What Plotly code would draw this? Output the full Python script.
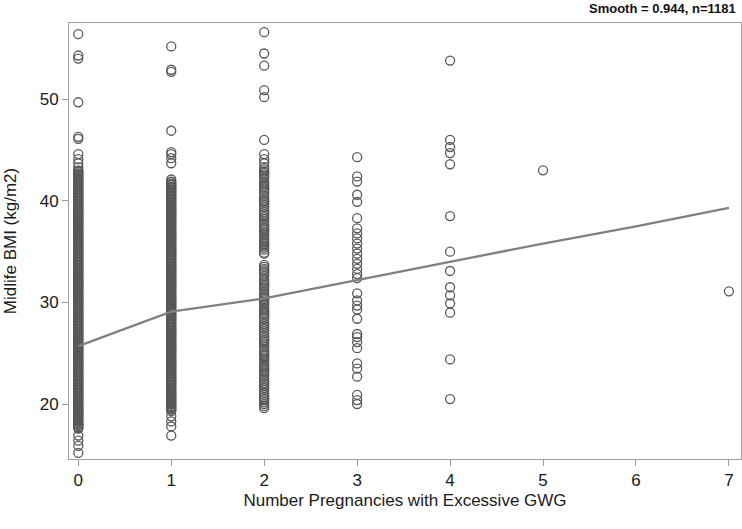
import plotly.graph_objects as go

# Midlife BMI values, one list per number of pregnancies with excessive GWG
bmi_0 = [56.4, 54.3, 54.0, 49.7, 46.3, 46.1, 44.6, 44.1, 43.7, 43.3,
         43.0, 42.9, 42.7, 42.6, 42.4, 42.3, 42.1, 42.0,
         41.8, 41.7, 41.5, 41.4, 41.2, 41.1, 40.9,
         40.8, 40.6, 40.5, 40.3, 40.2, 40.0,
         39.9, 39.7, 39.6, 39.4, 39.3, 39.1, 39.0,
         38.8, 38.7, 38.5, 38.4, 38.2, 38.1, 37.9,
         37.8, 37.6, 37.5, 37.3, 37.2, 37.0,
         36.9, 36.7, 36.6, 36.4, 36.3, 36.1, 36.0,
         35.8, 35.7, 35.5, 35.4, 35.2, 35.1, 34.9,
         34.8, 34.6, 34.5, 34.3, 34.2, 34.0,
         33.9, 33.7, 33.6, 33.4, 33.3, 33.1, 33.0,
         32.8, 32.7, 32.5, 32.4, 32.2, 32.1, 31.9,
         31.8, 31.6, 31.5, 31.3, 31.2, 31.0,
         30.9, 30.7, 30.6, 30.4, 30.3, 30.1, 30.0,
         29.8, 29.7, 29.5, 29.4, 29.2, 29.1, 28.9,
         28.8, 28.6, 28.5, 28.3, 28.2, 28.0,
         27.9, 27.7, 27.6, 27.4, 27.3, 27.1, 27.0,
         26.8, 26.7, 26.5, 26.4, 26.2, 26.1, 25.9,
         25.8, 25.6, 25.5, 25.3, 25.2, 25.0,
         24.9, 24.7, 24.6, 24.4, 24.3, 24.1, 24.0,
         23.8, 23.7, 23.5, 23.4, 23.2, 23.1, 22.9,
         22.8, 22.6, 22.5, 22.3, 22.2, 22.0,
         21.9, 21.7, 21.6, 21.4, 21.3, 21.1, 21.0,
         20.8, 20.7, 20.5, 20.4, 20.2, 20.1, 19.9,
         19.8, 19.6, 19.5, 19.3, 19.2, 19.0,
         18.9, 18.7, 18.6, 18.4, 18.3, 18.1, 18.0,
         17.8, 17.6,
         16.9, 16.4, 15.9, 15.2,
         42.85, 42.55, 42.25, 41.95, 41.65, 41.35, 41.05, 40.75, 40.45, 40.15,
         39.85, 39.55, 39.25, 38.95, 38.65, 38.35, 38.05, 37.75, 37.45, 37.15,
         36.85, 36.55, 36.25, 35.95, 35.65, 35.35, 35.05, 34.75, 34.45, 34.15,
         33.85, 33.55, 33.25, 32.95, 32.65, 32.35, 32.05, 31.75, 31.45, 31.15,
         30.85, 30.55, 30.25, 29.95, 29.65, 29.35, 29.05, 28.75, 28.45, 28.15,
         27.85, 27.55, 27.25, 26.95, 26.65, 26.35, 26.05, 25.75, 25.45, 25.15,
         24.85, 24.55, 24.25, 23.95, 23.65, 23.35, 23.05, 22.75, 22.45, 22.15,
         21.85, 21.55, 21.25, 20.95, 20.65, 20.35, 20.05, 19.75, 19.45, 19.15,
         18.85, 18.55, 18.25, 17.95, 17.65]
bmi_1 = [55.2, 52.9, 52.7, 46.9, 44.8, 44.6, 44.2, 43.7, 42.1,
         41.9, 41.7, 41.6, 41.4, 41.3, 41.1, 41.0,
         40.8, 40.7, 40.5, 40.4, 40.2, 40.1, 39.9,
         39.8, 39.6, 39.5, 39.3, 39.2, 39.0,
         38.9, 38.7, 38.6, 38.4, 38.3, 38.1, 38.0,
         37.8, 37.7, 37.5, 37.4, 37.2, 37.1, 36.9,
         36.8, 36.6, 36.5, 36.3, 36.2, 36.0,
         35.9, 35.7, 35.6, 35.4, 35.3, 35.1, 35.0,
         34.8, 34.7, 34.5, 34.4, 34.2, 34.1, 33.9,
         33.8, 33.6, 33.5, 33.3, 33.2, 33.0,
         32.9, 32.7, 32.6, 32.4, 32.3, 32.1, 32.0,
         31.8, 31.7, 31.5, 31.4, 31.2, 31.1, 30.9,
         30.8, 30.6, 30.5, 30.3, 30.2, 30.0,
         29.9, 29.7, 29.6, 29.4, 29.3, 29.1, 29.0,
         28.8, 28.7, 28.5, 28.4, 28.2, 28.1, 27.9,
         27.8, 27.6, 27.5, 27.3, 27.2, 27.0,
         26.9, 26.7, 26.6, 26.4, 26.3, 26.1, 26.0,
         25.8, 25.7, 25.5, 25.4, 25.2, 25.1, 24.9,
         24.8, 24.6, 24.5, 24.3, 24.2, 24.0,
         23.9, 23.7, 23.6, 23.4, 23.3, 23.1, 23.0,
         22.8, 22.7, 22.5, 22.4, 22.2, 22.1, 21.9,
         21.8, 21.6, 21.5, 21.3, 21.2, 21.0,
         20.9, 20.7, 20.6, 20.4, 20.3, 20.1, 20.0,
         19.8, 19.7, 19.5, 19.3,
         18.8, 18.3, 17.8, 16.9,
         41.85, 41.55, 41.25, 40.95, 40.65, 40.35, 40.05,
         39.75, 39.45, 39.15, 38.85, 38.55, 38.25, 37.95, 37.65, 37.35, 37.05,
         36.75, 36.45, 36.15, 35.85, 35.55, 35.25, 34.95, 34.65, 34.35, 34.05,
         33.75, 33.45, 33.15, 32.85, 32.55, 32.25, 31.95, 31.65, 31.35, 31.05,
         30.75, 30.45, 30.15, 29.85, 29.55, 29.25, 28.95, 28.65, 28.35, 28.05,
         27.75, 27.45, 27.15, 26.85, 26.55, 26.25, 25.95, 25.65, 25.35, 25.05,
         24.75, 24.45, 24.15, 23.85, 23.55, 23.25, 22.95, 22.65, 22.35, 22.05,
         21.75, 21.45, 21.15, 20.85, 20.55, 20.25, 19.95, 19.65, 19.45]
bmi_2 = [56.6, 54.5, 53.3, 50.9, 50.2, 46.0, 44.6, 44.1, 43.7,
         43.3, 43.1, 42.9, 42.6, 42.4, 42.2, 41.9, 41.7, 41.5, 41.2, 41.0, 40.8, 40.5, 40.3,
         40.1, 39.8, 39.6, 39.4, 39.1, 38.9, 38.7, 38.4, 38.2, 38.0, 37.7, 37.5, 37.3, 37.0,
         36.8, 36.6, 36.3, 36.1, 35.9, 35.6, 35.4, 35.2, 34.9, 34.8,
         33.7, 33.5, 33.3, 33.0, 32.8, 32.6, 32.3, 32.1, 31.9, 31.6, 31.4, 31.2, 30.9, 30.7,
         30.5, 30.2, 30.0, 29.8, 29.5, 29.3, 29.1, 28.8, 28.6, 28.4, 28.1, 27.9, 27.7, 27.4,
         27.2, 27.0, 26.7, 26.5, 26.3, 26.0, 25.8, 25.6, 25.3, 25.1, 24.9, 24.6, 24.4, 24.2,
         23.9, 23.7, 23.5, 23.2, 23.0, 22.8, 22.5, 22.3, 22.1, 21.8, 21.6, 21.4, 21.1, 20.9,
         20.7, 20.4, 20.2, 20.0, 19.8, 19.6,
         42.75, 41.35, 39.95, 38.55, 37.15, 35.75, 33.15, 31.75, 30.35, 28.95, 27.55,
         26.15, 24.75, 23.35, 21.95, 20.55]
bmi_3 = [44.3, 42.4, 41.9, 40.6, 39.9, 38.3, 37.3, 36.8, 36.3, 35.8, 35.3, 34.8, 34.3, 33.8,
         33.3, 32.8, 32.4, 30.9, 30.2, 29.7, 29.3, 28.4, 26.9, 26.6, 26.1, 25.5, 24.0, 23.5,
         22.7, 20.9, 20.4, 20.0]
bmi_4 = [53.8, 46.0, 45.3, 44.7, 43.6, 38.5, 35.0, 33.1, 31.5, 30.7, 29.9, 29.0, 24.4, 20.5]
bmi_5 = [43.0]
bmi_7 = [31.1]

groups = {0: bmi_0, 1: bmi_1, 2: bmi_2, 3: bmi_3, 4: bmi_4, 5: bmi_5, 7: bmi_7}

# Smooth (loess) curve values at each integer count
smooth_x = [0, 1, 2, 3, 4, 5, 6, 7]
smooth_y = [25.7, 29.1, 30.4, 32.2, 34.0, 35.8, 37.5, 39.3]

x_ticks = [0, 1, 2, 3, 4, 5, 6, 7]
y_ticks = [20, 30, 40, 50]

px, py = [], []
for k, vals in groups.items():
    px += [k] * len(vals)
    py += vals

fig = go.Figure()
fig.add_trace(go.Scatter(
    x=px, y=py, mode="markers",
    marker=dict(symbol="circle-open", size=9, color="#585858", line=dict(width=1.3, color="#585858")),
    showlegend=False, hoverinfo="x+y"))
fig.add_trace(go.Scatter(
    x=smooth_x, y=smooth_y, mode="lines",
    line=dict(color="#808080", width=2.3),
    showlegend=False, hoverinfo="skip"))

axis_font = dict(family="Liberation Sans, Arial, sans-serif", size=17, color="#1a1a1a")
fig.update_layout(
    width=742, height=529,
    margin=dict(l=69, r=1, t=23, b=70),
    paper_bgcolor="white", plot_bgcolor="white",
    font=axis_font,
    xaxis=dict(range=[-0.1, 7.13], tickvals=x_ticks, ticks="outside", ticklen=6, tickcolor="#999999",
               showline=True, linecolor="#a0a0a0", linewidth=1, mirror=True, showgrid=False, zeroline=False,
               title=dict(text="Number Pregnancies with Excessive GWG", standoff=4, font=axis_font),
               tickfont=axis_font),
    yaxis=dict(range=[14.6, 57.5], tickvals=y_ticks, ticks="outside", ticklen=6, tickcolor="#999999",
               showline=True, linecolor="#a0a0a0", linewidth=1, mirror=True, showgrid=False, zeroline=False,
               title=dict(text="Midlife BMI (kg/m2)", standoff=18, font=axis_font),
               tickfont=axis_font),
    annotations=[dict(text="<b>Smooth = 0.944, n=1181</b>", xref="paper", yref="paper", x=1, y=1,
                      xanchor="right", yanchor="bottom", xshift=-3, yshift=5, showarrow=False,
                      font=dict(family="Liberation Sans, Arial, sans-serif", size=13, color="#111111"))],
)

fig.write_html("out.html", config={"displayModeBar": False},
               post_script="document.body.style.margin='0';document.body.style.overflow='hidden';")
